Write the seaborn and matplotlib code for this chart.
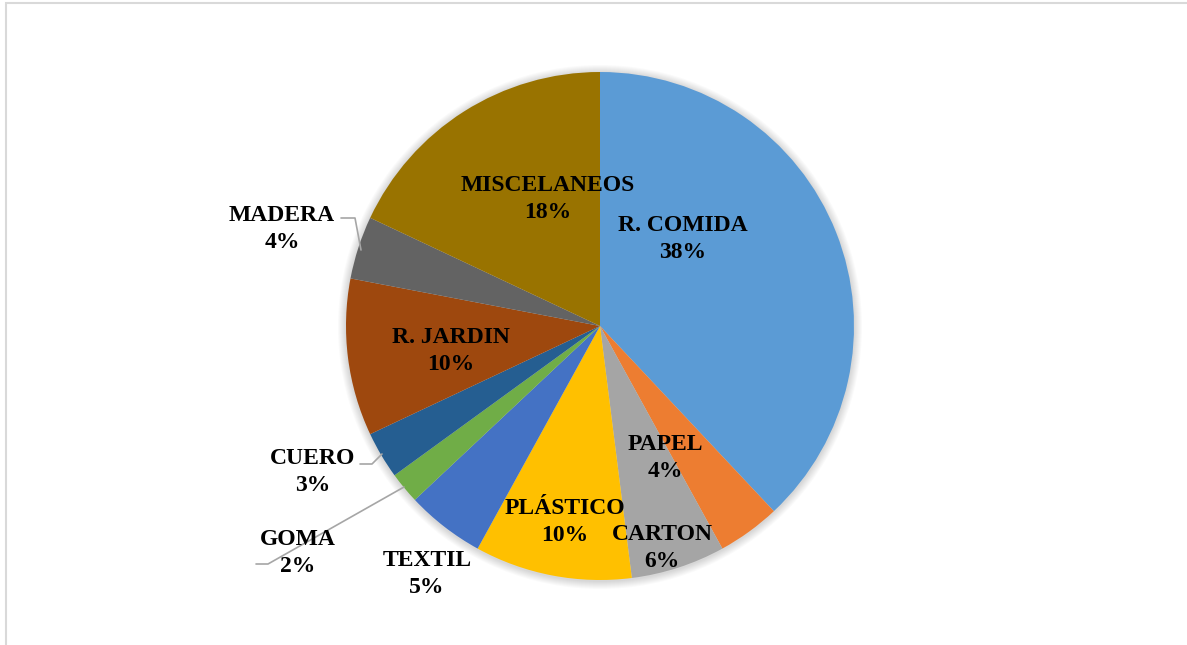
import matplotlib
matplotlib.use("Agg")
import matplotlib.pyplot as plt
import matplotlib.patches as mpatches
import seaborn as sns

# ---- data ----
categories = ["R. COMIDA", "PAPEL", "CARTON", "PLÁSTICO", "TEXTIL",
              "GOMA", "CUERO", "R. JARDIN", "MADERA", "MISCELANEOS"]
values = [38, 4, 6, 10, 5, 2, 3, 10, 4, 18]
colors = ["#5B9BD5", "#ED7D31", "#A5A5A5", "#FFC000", "#4472C4",
          "#70AD47", "#255E91", "#9E480E", "#636363", "#997300"]

# ---- layout (pixel coords, y from top) ----
W, H = 1187, 645
label_pos = {
    "R. COMIDA": (683, 239), "PAPEL": (665, 458), "CARTON": (662, 548),
    "PLÁSTICO": (565, 522), "TEXTIL": (427, 574), "GOMA": (298, 553),
    "CUERO": (313, 472), "R. JARDIN": (451, 351), "MADERA": (282, 229),
    "MISCELANEOS": (548, 199),
}
leaders = {
    "MADERA": [(341, 218), (355, 218), (361, 250)],
    "CUERO": [(360, 464), (372, 464), (382, 454)],
    "GOMA": [(256, 564), (268, 564), (404, 487)],
}

sns.set_theme(style="white")
plt.rcParams["font.family"] = ["Liberation Serif", "DejaVu Serif"]

fig = plt.figure(figsize=(W / 100, H / 100), dpi=100)
ax = fig.add_axes([0, 0, 1, 1])

cx, cy, r = 600, H - 326, 254
# soft shadow
for k in range(8, 0, -1):
    ax.add_patch(mpatches.Circle((cx, cy - 1), r + k, color="#000000",
                                 alpha=0.018, lw=0, zorder=0))
ax.pie(values, colors=colors, startangle=90, counterclock=False,
       center=(cx, cy), radius=r, frame=True,
       wedgeprops=dict(linewidth=0))
ax.set_xlim(0, W)
ax.set_ylim(0, H)
ax.set_aspect("equal")
ax.axis("off")

for cat, val in zip(categories, values):
    x, y = label_pos[cat]
    ax.text(x, H - y, f"{cat}\n{val}%", ha="center", va="center",
            fontsize=17, fontweight="bold", color="black",
            linespacing=1.32, zorder=5)

for pts in leaders.values():
    xs = [p[0] for p in pts]
    ys = [H - p[1] for p in pts]
    ax.plot(xs, ys, color="#A6A6A6", lw=1.2, zorder=4)

# chart border
fig.patches.append(mpatches.Rectangle((6 / W, -0.01), 1.1, 1 - 3 / H + 0.01,
                                      transform=fig.transFigure, fill=False,
                                      edgecolor="#D9D9D9", lw=1.5))

fig.savefig("out.png", dpi=100)
